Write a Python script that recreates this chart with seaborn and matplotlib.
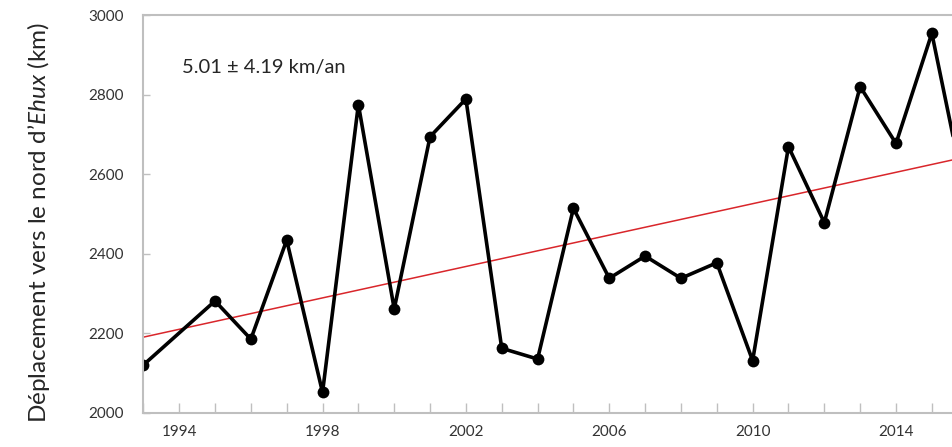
import matplotlib
matplotlib.use("Agg")
import matplotlib.pyplot as plt
import pandas as pd
import seaborn as sns

# ---- data ----
years = [1993, 1995, 1996, 1997, 1998, 1999, 2000, 2001, 2002, 2003, 2004,
         2005, 2006, 2007, 2008, 2009, 2010, 2011, 2012, 2013, 2014, 2015, 2016]
displacement_km = [2120, 2281, 2185, 2434, 2051, 2775, 2261, 2694, 2789, 2162, 2135,
                   2514, 2338, 2394, 2338, 2377, 2131, 2669, 2478, 2820, 2677, 2954, 2517]
trend_years = [1993, 2016]
trend_km = [2190, 2644]
x_tick_years = list(range(1993, 2017))
x_label_years = [1994, 1998, 2002, 2006, 2010, 2014]
y_ticks = [2000, 2200, 2400, 2600, 2800, 3000]
annotation = "5.01 ± 4.19 km/an"
ylabel = "Déplacement vers le nord d\u2019$\\mathit{Ehux}$ (km)"

sns.set_theme(style="white")
plt.rcParams["font.family"] = ["Lato", "DejaVu Sans"]
plt.rcParams["mathtext.fontset"] = "custom"
plt.rcParams["mathtext.rm"] = "Lato"
plt.rcParams["mathtext.it"] = "Lato:italic"

fig = plt.figure(figsize=(9.53, 4.47), dpi=100)
ax = fig.add_axes([0.1504, 0.0767, 0.865, 0.8897])

df = pd.DataFrame({"year": years, "km": displacement_km})
tdf = pd.DataFrame({"year": trend_years, "km": trend_km})

sns.lineplot(data=tdf, x="year", y="km", ax=ax, color="#D9262B", linewidth=1.1)
sns.lineplot(data=df, x="year", y="km", ax=ax, color="black", linewidth=2.6,
             marker="o", markersize=8.5, markeredgewidth=0)

ax.set_xlim(1993, 2016)
ax.set_ylim(2000, 3000)

ax.set_xticks(x_tick_years)
ax.set_xticklabels([str(y) if y in x_label_years else "" for y in x_tick_years])
ax.set_yticks(y_ticks)
ax.set_yticklabels([str(v) for v in y_ticks])

spine_col = "#BFBFBF"
for side in ["left", "bottom", "top"]:
    ax.spines[side].set_color(spine_col)
    ax.spines[side].set_linewidth(1.5)
ax.spines["right"].set_visible(False)

ax.tick_params(axis="x", direction="in", length=7.2, width=1.0, color=spine_col,
               labelsize=11, labelcolor="#333333", pad=9, bottom=True)
ax.tick_params(axis="y", direction="in", length=5, width=1.0, color=spine_col,
               labelsize=11, labelcolor="#333333", pad=14, left=True)

ax.set_xlabel("")
ax.set_ylabel(ylabel, fontsize=17.5, color="#262626")
ax.yaxis.set_label_coords(-0.111, 0.477)

ax.text(0.0466, 0.8534, annotation, transform=ax.transAxes, fontsize=14.5,
        color="#262626", ha="left", va="baseline")

fig.savefig("out.png", dpi=100)
